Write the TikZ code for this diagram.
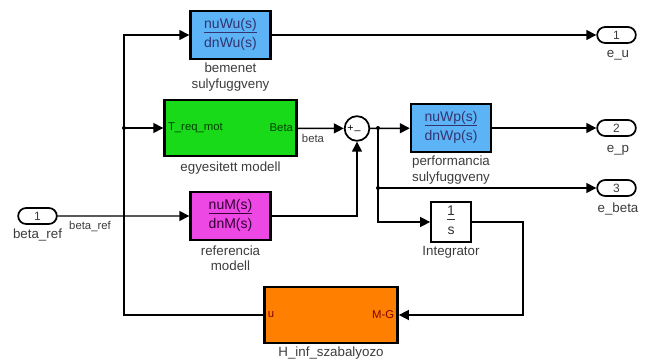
\documentclass[tikz,border=0pt]{standalone}
\usepackage{fontspec}
\setmainfont{Liberation Sans}
\usetikzlibrary{arrows.meta,shapes.misc}
\definecolor{wblue}{RGB}{92,180,246}
\definecolor{mgreen}{RGB}{24,218,24}
\definecolor{rmagenta}{RGB}{238,72,228}
\definecolor{horange}{RGB}{255,128,0}
\definecolor{lbl}{RGB}{60,60,60}
\newcommand{\blockfrac}[2]{{\setlength{\arrayrulewidth}{1.2pt}\begin{tabular}{@{}c@{}}#1\\[-1pt]\hline\rule{0pt}{11pt}#2\end{tabular}}}
\tikzset{
	x=0.75pt, y=-0.75pt,
	sig/.style={line width=1.1pt, -{Triangle[length=7.5pt,width=7.5pt]}}, % signal lines
	wire/.style={line width=1.1pt},
	block/.style={draw, line width=1.8pt, rectangle, inner sep=0pt, font=\fontsize{10.5}{11.5}\selectfont, text=lbl},
	port/.style={draw, line width=1.3pt, rounded rectangle, minimum width=29pt, minimum height=12pt, inner sep=0pt, font=\fontsize{9}{10}\selectfont, text=lbl},
	lab/.style={font=\fontsize{10}{11.5}\selectfont, text=lbl, align=center},
	slab/.style={font=\fontsize{8.5}{10}\selectfont, text=lbl},
	dot/.style={fill, circle, inner sep=0pt, minimum size=3pt},
}
\begin{document}
\begin{tikzpicture}
	\useasboundingbox (0,0) rectangle (649,363);
	% blocks
	\node[block, fill=wblue, minimum width=60pt, minimum height=36pt, text=blue!30!black!80] (wu) at (230.5,35) {\blockfrac{nuWu(s)}{dnWu(s)}};
	\node[block, fill=mgreen, minimum width=99pt, minimum height=42pt] (mod) at (230.5,128) {};
	\node[block, fill=rmagenta, minimum width=60pt, minimum height=36pt, text=violet!40!black] (ref) at (230.5,216) {\blockfrac{nuM(s)}{dnM(s)}};
	\node[draw, circle, line width=1.3pt, minimum size=18.5pt, inner sep=0pt] (sum) at (357,128.5) {};
	\node[block, fill=wblue, minimum width=60pt, minimum height=36pt, text=blue!30!black!80] (wp) at (451,128) {\blockfrac{nuWp(s)}{dnWp(s)}};
	\node[block, fill=white, line width=1.3pt, minimum width=30pt, minimum height=30pt, text=black!80] (integ) at (451,222) {\blockfrac{1}{s}};
	\node[block, fill=horange, minimum width=100pt, minimum height=42pt] (hinf) at (331,315) {};
	
	% ports
	\node[port] (bref) at (37.5,216) {1};
	\node[port] (eu) at (616.5,35) {1};
	\node[port] (ep) at (616.5,128) {2};
	\node[port] (eb) at (616.5,188) {3};
	
	% text
	\node[slab, text=green!25!black, anchor=west] at (mod.west) {T\_req\_mot};
	\node[slab, text=green!25!black, anchor=east] at (mod.east) {Beta};
	\node[slab, text=red!50!black, anchor=west] at (hinf.west) {u};
	\node[slab, text=red!50!black, anchor=east] at (hinf.east) {M-G};
	\node[font=\fontsize{8}{9}\selectfont] at (350.5,128) {+};
	\node[font=\fontsize{8}{9}\selectfont] at (357.5,131) {\_};
	
	\node[lab] at (230.5,77) {bemenet\\sulyfuggveny};
	\node[lab] at (230.5,168) {egyesitett modell};
	\node[lab] at (230.5,258) {referencia\\modell};
	\node[lab] at (451,170) {performancia\\sulyfuggveny};
	\node[lab] at (451,252) {Integrator};
	\node[lab] at (331,353) {H\_inf\_szabalyozo};
	\node[lab] at (37.5,235) {beta\_ref};
	\node[lab] at (618,55) {e\_u};
	\node[lab] at (618,150) {e\_p};
	\node[lab] at (618,209) {e\_beta};
	\node[slab, anchor=north] at (90,217) {beta\_ref};
	\node[slab, anchor=north] at (313,130) {beta};
	
	% branch points
	\coordinate (jin) at (124,216);
	\coordinate (jmod) at (124,128);
	\coordinate (jerr) at (378,128);
	\coordinate (jeb) at (378,188);
	\coordinate (iout) at (523,222);
	\node[dot] at (jmod) {};
	\node[dot] at (jerr) {};
	\node[dot] at (jeb) {};
	
	% connections
	\draw[sig] (bref) -- (ref);
	\draw[sig] (jin) |- (wu);
	\draw[sig] (jmod) -- (mod);
	\draw[wire] (jin) |- (hinf);
	\draw[sig] (mod) -- (sum);
	\draw[sig] (ref) -| (sum);
	\draw[sig] (sum) -- (wp);
	\draw[sig] (wu) -- (eu);
	\draw[sig] (wp) -- (ep);
	\draw[sig] (jerr) |- (eb);
	\draw[sig] (jerr) |- (integ);
	\draw[sig] (integ) -| (iout) |- (hinf);
\end{tikzpicture}
\end{document}
